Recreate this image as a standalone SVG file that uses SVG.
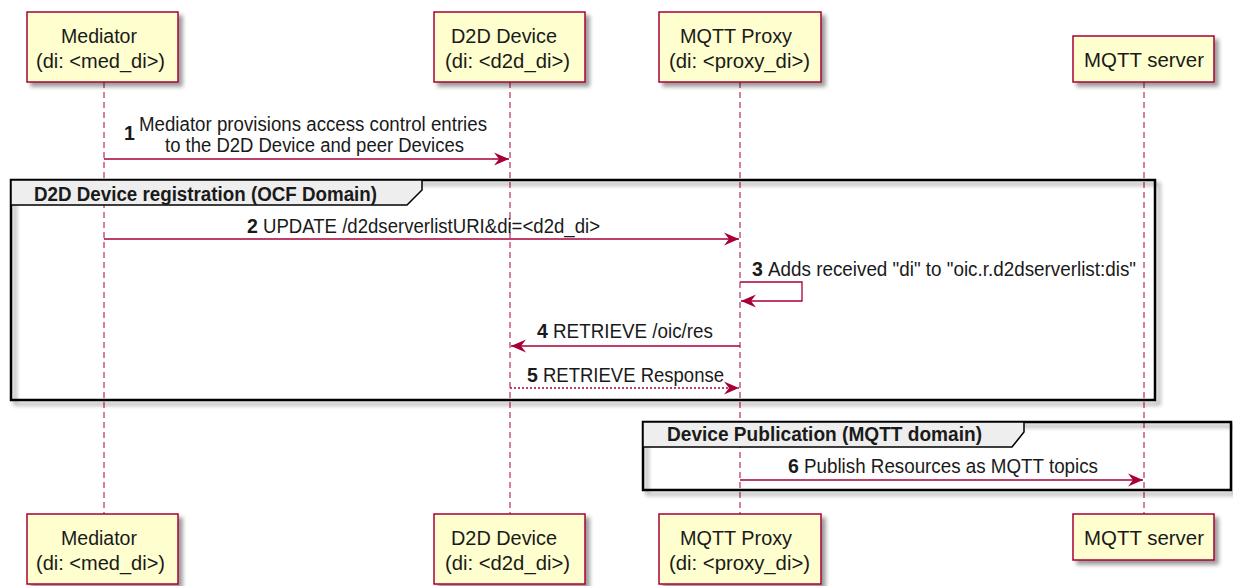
<svg xmlns="http://www.w3.org/2000/svg" width="1233" height="586" viewBox="0 0 1233 586">
<defs>
<filter id="sh" x="-10%" y="-10%" width="130%" height="140%">
<feGaussianBlur in="SourceAlpha" stdDeviation="2"/>
<feOffset dx="4" dy="4" result="b"/>
<feComponentTransfer><feFuncA type="linear" slope="0.4"/></feComponentTransfer>
<feMerge><feMergeNode/><feMergeNode in="SourceGraphic"/></feMerge>
</filter>
<marker id="ah" viewBox="-16 -8 17 16" refX="0" refY="0" markerWidth="17" markerHeight="16" markerUnits="userSpaceOnUse" orient="auto">
<path d="M0,0 L-15,-6.5 L-10,0 L-15,6.5 Z" fill="#A80036"/>
</marker>
<style>
.box{fill:#FEFECE;stroke:#A80036;stroke-width:1.5}
.life{stroke:#A80036;stroke-width:1;stroke-dasharray:6,4;fill:none}
.msg{stroke:#A80036;stroke-width:1.3;fill:none;marker-end:url(#ah)}
.dash{stroke-dasharray:2,2}
.tab{fill:#EEEEEE;stroke:#000;stroke-width:1.5}
text{font-family:"Liberation Sans",Arial,sans-serif;font-size:19.5px;fill:#1a1a1a}
.pt{font-size:19.5px}
.b{font-weight:bold}
</style>
</defs>

<g id="lifelines">
<line class="life" x1="104" y1="82" x2="104" y2="514"/>
<line class="life" x1="510" y1="82" x2="510" y2="514"/>
<line class="life" x1="740" y1="82" x2="740" y2="514"/>
<line class="life" x1="1144" y1="82" x2="1144" y2="514"/>
</g>

<g id="group-ocf">
<path d="M11,180 H1155 V400 H11 Z" fill="none" stroke="#000" stroke-width="2.5" filter="url(#sh)"/>
<path class="tab" d="M11,180 H422 V190 L407,205 H11 Z"/>
<text class="b" x="34" y="201" textLength="343" lengthAdjust="spacingAndGlyphs">D2D Device registration (OCF Domain)</text>
</g>

<g id="group-mqtt">
<path d="M643,422 H1231 V490 H643 Z" fill="none" stroke="#000" stroke-width="2.5" filter="url(#sh)"/>
<path class="tab" d="M643,422 H1024 V432 L1012,447 H643 Z"/>
<text class="b" x="667" y="441" textLength="315" lengthAdjust="spacingAndGlyphs">Device Publication (MQTT domain)</text>
</g>

<g id="connectors">
<g id="m1">
<line class="msg" x1="104" y1="159" x2="509" y2="159"/>
<text class="b" x="124" y="140">1</text>
<text x="139" y="131" textLength="348" lengthAdjust="spacingAndGlyphs">Mediator provisions access control entries</text>
<text x="165" y="152" textLength="299" lengthAdjust="spacingAndGlyphs">to the D2D Device and peer Devices</text>
</g>
<g id="m2">
<line class="msg" x1="104" y1="239" x2="739" y2="239"/>
<text class="b" x="247" y="233">2</text>
<text x="263" y="233" textLength="337" lengthAdjust="spacingAndGlyphs">UPDATE /d2dserverlistURI&amp;di=&lt;d2d_di&gt;</text>
</g>
<g id="m3">
<path class="msg" d="M740,282 H802 V301 H741"/>
<text class="b" x="752" y="276">3</text>
<text x="768" y="276" textLength="368" lengthAdjust="spacingAndGlyphs">Adds received "di" to "oic.r.d2dserverlist:dis"</text>
</g>
<g id="m4">
<line class="msg" x1="740" y1="346" x2="511" y2="346"/>
<text class="b" x="537" y="338">4</text>
<text x="553" y="338" textLength="160" lengthAdjust="spacingAndGlyphs">RETRIEVE /oic/res</text>
</g>
<g id="m5">
<line class="msg dash" x1="510" y1="388" x2="739" y2="388"/>
<text class="b" x="527" y="382">5</text>
<text x="543" y="382" textLength="181" lengthAdjust="spacingAndGlyphs">RETRIEVE Response</text>
</g>
<g id="m6">
<line class="msg" x1="740" y1="480" x2="1143" y2="480"/>
<text class="b" x="788" y="473">6</text>
<text x="804" y="473" textLength="294" lengthAdjust="spacingAndGlyphs">Publish Resources as MQTT topics</text>
</g>
</g>

<g id="mediator-top">
<rect class="box" x="27" y="12" width="151" height="70" filter="url(#sh)"/>
<text class="pt" x="61" y="43" textLength="76" lengthAdjust="spacingAndGlyphs">Mediator</text>
<text class="pt" x="36" y="68" textLength="129" lengthAdjust="spacingAndGlyphs">(di: &lt;med_di&gt;)</text>
</g>
<g id="d2d-top">
<rect class="box" x="434" y="12" width="151" height="70" filter="url(#sh)"/>
<text class="pt" x="451" y="43" textLength="106" lengthAdjust="spacingAndGlyphs">D2D Device</text>
<text class="pt" x="445" y="68" textLength="125" lengthAdjust="spacingAndGlyphs">(di: &lt;d2d_di&gt;)</text>
</g>
<g id="proxy-top">
<rect class="box" x="659" y="12" width="162" height="70" filter="url(#sh)"/>
<text class="pt" x="680" y="43" textLength="112" lengthAdjust="spacingAndGlyphs">MQTT Proxy</text>
<text class="pt" x="669" y="68" textLength="141" lengthAdjust="spacingAndGlyphs">(di: &lt;proxy_di&gt;)</text>
</g>
<g id="server-top">
<rect class="box" x="1073" y="36" width="141" height="46" filter="url(#sh)"/>
<text class="pt" x="1084" y="67" textLength="120" lengthAdjust="spacingAndGlyphs">MQTT server</text>
</g>

<g id="mediator-bottom">
<rect class="box" x="27" y="514" width="151" height="70" filter="url(#sh)"/>
<text class="pt" x="61" y="545" textLength="76" lengthAdjust="spacingAndGlyphs">Mediator</text>
<text class="pt" x="36" y="570" textLength="129" lengthAdjust="spacingAndGlyphs">(di: &lt;med_di&gt;)</text>
</g>
<g id="d2d-bottom">
<rect class="box" x="434" y="514" width="151" height="70" filter="url(#sh)"/>
<text class="pt" x="451" y="545" textLength="106" lengthAdjust="spacingAndGlyphs">D2D Device</text>
<text class="pt" x="445" y="570" textLength="125" lengthAdjust="spacingAndGlyphs">(di: &lt;d2d_di&gt;)</text>
</g>
<g id="proxy-bottom">
<rect class="box" x="659" y="514" width="162" height="70" filter="url(#sh)"/>
<text class="pt" x="680" y="545" textLength="112" lengthAdjust="spacingAndGlyphs">MQTT Proxy</text>
<text class="pt" x="669" y="570" textLength="141" lengthAdjust="spacingAndGlyphs">(di: &lt;proxy_di&gt;)</text>
</g>
<g id="server-bottom">
<rect class="box" x="1073" y="514" width="141" height="46" filter="url(#sh)"/>
<text class="pt" x="1084" y="545" textLength="120" lengthAdjust="spacingAndGlyphs">MQTT server</text>
</g>
</svg>
